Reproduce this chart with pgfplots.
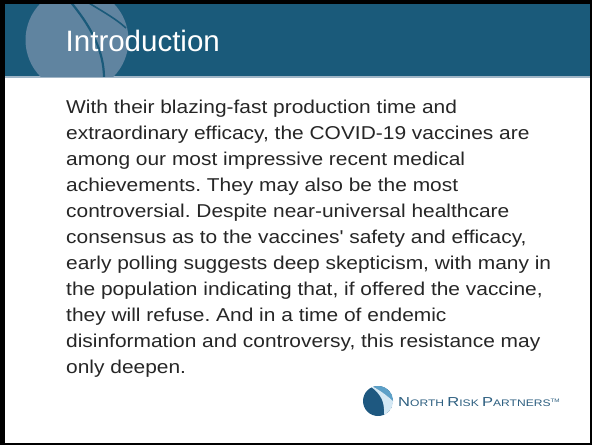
\documentclass[border=0pt]{standalone}
\usepackage{pgfplots}
\pgfplotsset{compat=1.18}
\usepackage{fontspec}
\setmainfont{Liberation Sans}
\frenchspacing
\definecolor{band}{RGB}{26,90,122}
\definecolor{bandcirc}{RGB}{96,132,160}
\definecolor{bodytext}{RGB}{38,38,38}
\definecolor{logodark}{RGB}{30,88,128}
\definecolor{logomid}{RGB}{92,160,200}
\definecolor{logopale}{RGB}{212,232,244}
\definecolor{logotext}{RGB}{45,95,128}
\newcommand{\bl}[1]{\scalebox{1.125}[1]{\fontsize{18.6}{22}\selectfont #1}}
\begin{document}
\begin{tikzpicture}
\begin{axis}[width=592pt,height=445pt,scale only axis,
  xmin=0,xmax=592,ymin=0,ymax=445,y dir=reverse,
  hide axis,clip=false]
% background
\fill[white] (axis cs:0,0) rectangle (axis cs:592,445);
% header band
\fill[band] (axis cs:0,0) rectangle (axis cs:592,76);
\fill[bandcirc!60!white] (axis cs:0,76) rectangle (axis cs:592,77.5);
\begin{scope}
\clip (axis cs:0,0) rectangle (axis cs:592,76);
\fill[bandcirc] (axis cs:77,40) ellipse[x radius=51.5pt, y radius=52pt];
\draw[band,line width=2.2pt] (axis cs:69,0) .. controls (axis cs:90,25) and (axis cs:104,50) .. (axis cs:104,78);
\draw[band,line width=1.6pt] (axis cs:84,0) .. controls (axis cs:100,10) and (axis cs:115,18) .. (axis cs:126,28);
\end{scope}
\node[anchor=base west,white,font=\fontsize{29.5}{34}\selectfont,inner sep=0pt] at (axis cs:65.5,51) {Introduction};
% body text
\begin{scope}[every node/.style={anchor=base west,inner sep=0pt,text=bodytext}]
\node at (axis cs:66,113.5) {\bl{With their blazing-fast production time and}};
\node at (axis cs:66,139.5) {\bl{extraordinary efficacy, the COVID-19 vaccines are}};
\node at (axis cs:66,165.5) {\bl{among our most impressive recent medical}};
\node at (axis cs:66,191.5) {\bl{achievements. They may also be the most}};
\node at (axis cs:66,217.5) {\bl{controversial. Despite near-universal healthcare}};
\node at (axis cs:66,243.5) {\bl{consensus as to the vaccines\textquotesingle\ safety and efficacy,}};
\node at (axis cs:66,269.5) {\bl{early polling suggests deep skepticism, with many in}};
\node at (axis cs:66,295.5) {\bl{the population indicating that, if offered the vaccine,}};
\node at (axis cs:66,321.5) {\bl{they will refuse. And in a time of endemic}};
\node at (axis cs:66,347.5) {\bl{disinformation and controversy, this resistance may}};
\node at (axis cs:66,373.5) {\bl{only deepen.}};
\end{scope}
% logo
\begin{scope}
\clip (axis cs:378,401) circle[radius=15pt];
\fill[logodark] (axis cs:378,401) circle[radius=15pt];
\fill[logomid] (axis cs:368,384) .. controls (axis cs:380,390) and (axis cs:388,396) .. (axis cs:396,404) -- (axis cs:396,384) -- cycle;
\fill[logopale] (axis cs:370,386) .. controls (axis cs:382,395) and (axis cs:385,402) .. (axis cs:384,418) -- (axis cs:396,418) -- (axis cs:396,404) .. controls (axis cs:388,396) and (axis cs:380,390) .. (axis cs:368,384) -- cycle;
\end{scope}
\node[anchor=base west,inner sep=0pt,text=logotext] at (axis cs:398,406.5)
 {\scalebox{1.27}[1]{\fontsize{13}{14}\selectfont N\fontsize{9.5}{12}\selectfont ORTH \fontsize{13}{14}\selectfont R\fontsize{9.5}{12}\selectfont ISK \fontsize{13}{14}\selectfont P\fontsize{9.5}{12}\selectfont ARTNERS\raisebox{4pt}{\fontsize{5}{6}\selectfont TM}}};
% frame
\fill[black] (axis cs:0,0) rectangle (axis cs:592,4);
\fill[black] (axis cs:0,0) rectangle (axis cs:5,445);
\fill[black] (axis cs:590,0) rectangle (axis cs:592,445);
\fill[black] (axis cs:0,443) rectangle (axis cs:592,445);
\end{axis}
\end{tikzpicture}
\end{document}
